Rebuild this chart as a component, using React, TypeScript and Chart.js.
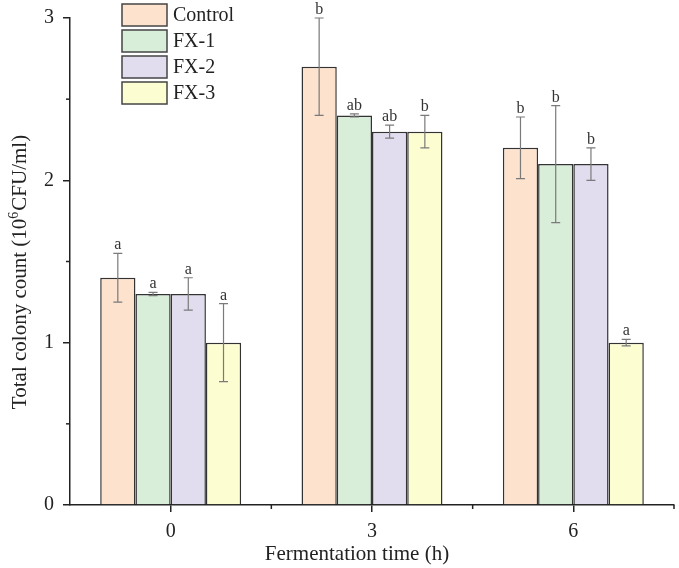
import React, { useEffect, useRef } from 'react';
import { Chart, registerables } from 'chart.js';

Chart.register(...registerables);

const categories = ['0', '3', '6'];
const seriesNames = ['Control', 'FX-1', 'FX-2', 'FX-3'];
const controlValues = [1.4, 2.7, 2.2];
const fx1Values = [1.3, 2.4, 2.1];
const fx2Values = [1.3, 2.3, 2.1];
const fx3Values = [1.0, 2.3, 1.0];
const controlErrors = [0.15, 0.3, 0.19];
const fx1Errors = [0.01, 0.01, 0.36];
const fx2Errors = [0.1, 0.04, 0.1];
const fx3Errors = [0.24, 0.1, 0.02];
const controlLetters = ['a', 'b', 'b'];
const fx1Letters = ['a', 'ab', 'b'];
const fx2Letters = ['a', 'ab', 'b'];
const fx3Letters = ['a', 'b', 'a'];
const seriesColors = ['#fde2cd', '#d8eed9', '#e1dcee', '#fdfdd2'];
const yTickValues = [0, 1, 2, 3];
const yMinorTicks = [0.5, 1.5, 2.5];

const allValues = [controlValues, fx1Values, fx2Values, fx3Values];
const allErrors = [controlErrors, fx1Errors, fx2Errors, fx3Errors];
const allLetters = [controlLetters, fx1Letters, fx2Letters, fx3Letters];

const FONT = '"Liberation Serif", "Times New Roman", serif';

const decorPlugin = {
  id: 'decor',
  afterDatasetsDraw(chart: any) {
    const { ctx, scales } = chart;
    const y = scales.y;
    ctx.save();
    chart.data.datasets.forEach((ds: any, di: number) => {
      const meta = chart.getDatasetMeta(di);
      meta.data.forEach((el: any, i: number) => {
        const v = allValues[di][i];
        const e = allErrors[di][i];
        const top = y.getPixelForValue(v + e);
        const bot = y.getPixelForValue(v - e);
        const cx = el.x;
        ctx.strokeStyle = '#7a7a7a';
        ctx.lineWidth = 1.2;
        ctx.beginPath();
        ctx.moveTo(cx, top);
        ctx.lineTo(cx, bot);
        ctx.moveTo(cx - 4.5, top);
        ctx.lineTo(cx + 4.5, top);
        ctx.moveTo(cx - 4.5, bot);
        ctx.lineTo(cx + 4.5, bot);
        ctx.stroke();
        ctx.fillStyle = '#333';
        ctx.font = `16px ${FONT}`;
        ctx.textAlign = 'center';
        ctx.textBaseline = 'alphabetic';
        ctx.fillText(allLetters[di][i], cx, top - 4);
      });
    });
    ctx.restore();
  },
  afterDraw(chart: any) {
    const { ctx, chartArea, scales } = chart;
    const y = scales.y;
    ctx.save();
    ctx.strokeStyle = '#222';
    ctx.lineWidth = 1.5;
    for (const v of yMinorTicks) {
      const py = y.getPixelForValue(v);
      ctx.beginPath();
      ctx.moveTo(chartArea.left - 4, py);
      ctx.lineTo(chartArea.left, py);
      ctx.stroke();
    }
    const n = categories.length;
    const w = (chartArea.right - chartArea.left) / n;
    for (let i = 1; i <= n; i++) {
      const px = chartArea.left + i * w;
      ctx.beginPath();
      ctx.moveTo(px, chartArea.bottom);
      ctx.lineTo(px, chartArea.bottom + 4);
      ctx.stroke();
    }
    const lx = 122;
    chart.data.datasets.forEach((ds: any, i: number) => {
      const ly = 4 + i * 26;
      ctx.fillStyle = ds.backgroundColor;
      ctx.fillRect(lx, ly, 45, 22);
      ctx.strokeStyle = '#444';
      ctx.lineWidth = 1.5;
      ctx.strokeRect(lx, ly, 45, 22);
      ctx.fillStyle = '#222';
      ctx.font = `20px ${FONT}`;
      ctx.textAlign = 'left';
      ctx.textBaseline = 'middle';
      ctx.fillText(ds.label, 173, ly + 12);
    });
    ctx.fillStyle = '#222';
    ctx.font = `21px ${FONT}`;
    ctx.textAlign = 'center';
    ctx.textBaseline = 'middle';
    ctx.fillText('Fermentation time (h)', 357, 554);
    ctx.save();
    ctx.translate(19, 272);
    ctx.rotate(-Math.PI / 2);
    const p1 = 'Total colony count (10';
    const p2 = '6';
    const p3 = 'CFU/ml)';
    ctx.font = `21px ${FONT}`;
    const w1 = ctx.measureText(p1).width;
    const w3 = ctx.measureText(p3).width;
    ctx.font = `14px ${FONT}`;
    const w2 = ctx.measureText(p2).width + 1;
    const total = w1 + w2 + w3;
    let sx = -total / 2;
    ctx.textAlign = 'left';
    ctx.textBaseline = 'alphabetic';
    ctx.font = `21px ${FONT}`;
    ctx.fillText(p1, sx, 7);
    sx += w1;
    ctx.font = `14px ${FONT}`;
    ctx.fillText(p2, sx, -1);
    sx += w2;
    ctx.font = `21px ${FONT}`;
    ctx.fillText(p3, sx, 7);
    ctx.restore();
    ctx.restore();
  },
};

export default function App() {
  const ref = useRef<HTMLCanvasElement | null>(null);
  useEffect(() => {
    if (!ref.current) return;
    const chart = new Chart(ref.current, {
      type: 'bar',
      data: {
        labels: categories,
        datasets: seriesNames.map((name, i) => ({
          label: name,
          data: allValues[i],
          backgroundColor: seriesColors[i],
          borderColor: '#333',
          borderWidth: 1.5,
          categoryPercentage: 0.7,
          barPercentage: 1.0,
        })),
      },
      options: {
        animation: false,
        responsive: true,
        maintainAspectRatio: false,
        layout: { padding: { top: 18, right: 5, left: 0, bottom: 0 } },
        plugins: { legend: { display: false }, tooltip: { enabled: false } },
        scales: {
          x: {
            type: 'category',
            offset: true,
            grid: {
              display: true,
              offset: false,
              drawOnChartArea: false,
              drawTicks: true,
              tickLength: 7,
              color: '#222',
              lineWidth: 1.5,
            },
            border: { display: true, color: '#222', width: 1.5 },
            ticks: { color: '#222', font: { family: FONT, size: 20 }, padding: 8, maxRotation: 0 },
            afterFit: (s: any) => {
              s.height = 63;
            },
          },
          y: {
            min: 0,
            max: 3,
            afterBuildTicks: (s: any) => {
              s.ticks = yTickValues.map((v) => ({ value: v }));
            },
            grid: {
              display: true,
              drawOnChartArea: false,
              drawTicks: true,
              tickLength: 7,
              color: '#222',
              lineWidth: 1.5,
            },
            border: { display: true, color: '#222', width: 1.5 },
            ticks: { color: '#222', font: { family: FONT, size: 20, lineHeight: 1 }, padding: 9 },
            afterFit: (s: any) => {
              s.width = 70;
              s.paddingTop = 0;
              s.paddingBottom = 0;
            },
          },
        },
      },
      plugins: [decorPlugin],
    });
    return () => chart.destroy();
  }, []);
  return (
    <div style={{ position: 'fixed', left: 0, top: 0, width: 679, height: 568, background: '#fff' }}>
      <canvas ref={ref} />
    </div>
  );
}
